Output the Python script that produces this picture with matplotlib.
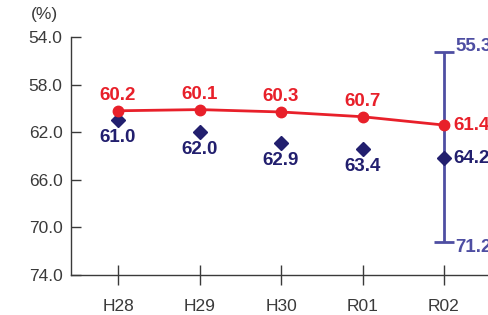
import matplotlib

matplotlib.use("Agg")
import matplotlib.pyplot as plt

plt.rcParams["font.family"] = ["Liberation Sans", "DejaVu Sans"]

years = ["H28", "H29", "H30", "R01", "R02"]
red_vals = [60.2, 60.1, 60.3, 60.7, 61.4]
navy_vals = [61.0, 62.0, 62.9, 63.4, 64.2]
err_low, err_high = 55.3, 71.2
yticks = [54.0, 58.0, 62.0, 66.0, 70.0, 74.0]

RED = "#e8202a"
NAVY = "#221f6e"
BAR = "#4e4ea2"
GREY = "#3a3a3a"
LBL = 13.5

fig = plt.figure(figsize=(4.88, 3.15), dpi=100)
ax = fig.add_axes([71 / 488, 40 / 315, 1 - 71 / 488, 238 / 315])

x = list(range(len(years)))
last = x[-1]

# error range for the last year
ax.errorbar([last], [navy_vals[-1]], yerr=[[navy_vals[-1] - err_low], [err_high - navy_vals[-1]]],
            fmt="none", ecolor=BAR, elinewidth=2, capsize=7, capthick=2, zorder=2)

ax.plot(x, red_vals, color=RED, lw=2, marker="o", ms=7.5, zorder=4)
ax.plot(x, navy_vals, ls="none", color=NAVY, marker="D", ms=7.5, zorder=3)

for i, (r, n) in enumerate(zip(red_vals, navy_vals)):
    if i == last:
        ax.annotate(f"{r:.1f}", (i, r), xytext=(7, 0), textcoords="offset points",
                    ha="left", va="center", color=RED, fontsize=LBL, fontweight="bold")
        ax.annotate(f"{n:.1f}", (i, n), xytext=(7, 0), textcoords="offset points",
                    ha="left", va="center", color=NAVY, fontsize=LBL, fontweight="bold")
    else:
        ax.annotate(f"{r:.1f}", (i, r), xytext=(0, 11), textcoords="offset points",
                    ha="center", va="center", color=RED, fontsize=LBL, fontweight="bold")
        ax.annotate(f"{n:.1f}", (i, n), xytext=(0, -12.5), textcoords="offset points",
                    ha="center", va="center", color=NAVY, fontsize=LBL, fontweight="bold")

ax.annotate(f"{err_low:.1f}", (last, err_low), xytext=(8, 4), textcoords="offset points",
            ha="left", va="center", color=BAR, fontsize=LBL, fontweight="bold")
ax.annotate(f"{err_high:.1f}", (last, err_high), xytext=(8, -4), textcoords="offset points",
            ha="left", va="center", color=BAR, fontsize=LBL, fontweight="bold")

ax.set_ylim(74.0, 54.0)
ax.set_xlim(-0.577, 4.54)
ax.set_yticks(yticks)
ax.set_yticklabels([f"{v:.1f}" for v in yticks], fontsize=12.5, color=GREY)
ax.set_xticks(x)
ax.set_xticklabels(years, fontsize=12.5, color=GREY)
ax.tick_params(axis="y", direction="in", length=7, width=1, color=GREY, pad=6)
ax.tick_params(axis="x", direction="inout", length=14, width=1, color=GREY, pad=10)
for side in ("top", "right"):
    ax.spines[side].set_visible(False)
for side in ("left", "bottom"):
    ax.spines[side].set_color(GREY)
    ax.spines[side].set_linewidth(1)

fig.text(44 / 488, 1 - 14 / 315, "(%)", ha="center", va="center", fontsize=12.5, color=GREY)

fig.savefig("out.png", dpi=100)
